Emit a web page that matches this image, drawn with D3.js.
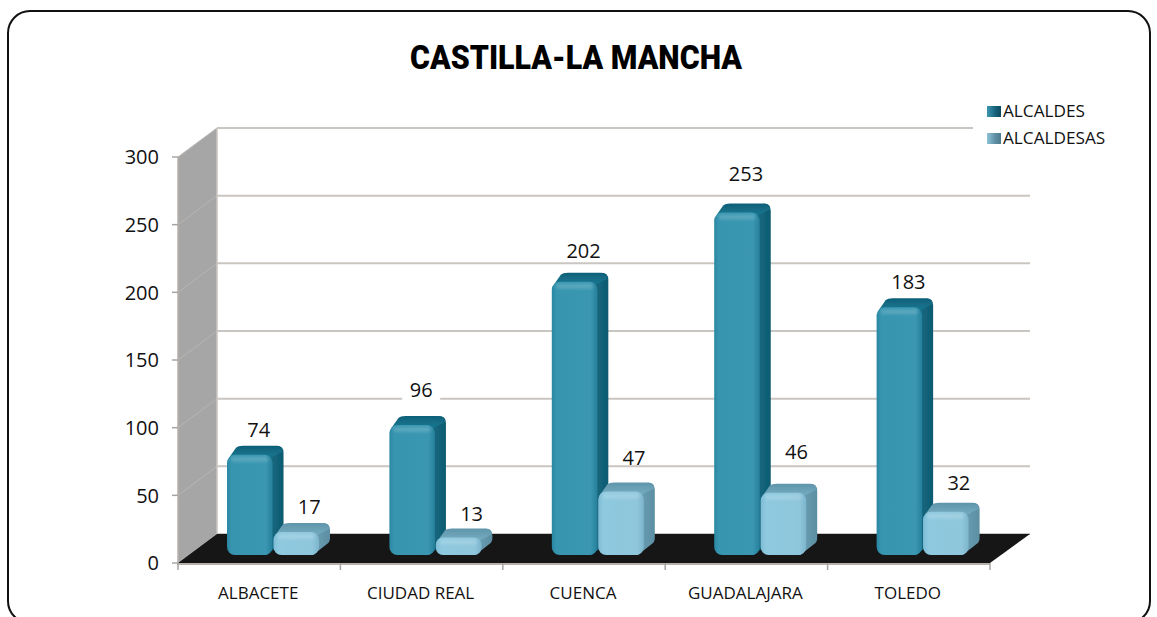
<!DOCTYPE html>
<html><head><meta charset="utf-8">
<script src="https://cdn.jsdelivr.net/npm/d3@7"></script>
<style>html,body{margin:0;padding:0;background:#fff;overflow:hidden}svg{display:block}</style>
</head><body><svg id="c" width="1157" height="617"></svg>
<script>
const titleText = "CASTILLA-LA MANCHA";
const categories = ["ALBACETE","CIUDAD REAL","CUENCA","GUADALAJARA","TOLEDO"];
const seriesNames = ["ALCALDES","ALCALDESAS"];
const alcaldes = [74,96,202,253,183];
const alcaldesas = [17,13,47,46,32];
const yTicks = [0,50,100,150,200,250,300];
// hand-placed label nudges seen in the picture (gap above the bar top)
const labelGapAlcaldes = [16,26,22,30,17];
const labelGapAlcaldesas = [16,15,25,32,20];

const W=1157,H=617;
const m={left:178,right:990,front0:563,front300:157,dx:39,dy:-29};
const svg=d3.select("#c");
const defs=svg.append("defs");
function grad(id,stops,x2=1,y2=0){
  const g=defs.append("linearGradient").attr("id",id).attr("x1",0).attr("y1",0).attr("x2",x2).attr("y2",y2);
  stops.forEach(s=>g.append("stop").attr("offset",s[0]).attr("stop-color",s[1]));
}
grad("f0",[[0,"#2a87a3"],[.1,"#3795af"],[.85,"#3a97b1"],[1,"#27809b"]]);
grad("f1",[[0,"#7fbdd6"],[.12,"#8ec9df"],[.85,"#8fc6db"],[1,"#7db5cd"]]);
grad("s0",[[0,"#17708a"],[1,"#0f5a70"]]);
grad("s1",[[0,"#6ea3b8"],[1,"#5c8ea2"]]);
grad("t0",[[0,"#0f6079"],[1,"#1a7a94"]],0,1);
grad("t1",[[0,"#5f95aa"],[1,"#78aec3"]],0,1);
grad("l0",[[0,"#3d97b2"],[.6,"#17617a"],[1,"#0c4a5e"]]);
grad("l1",[[0,"#8dc3d8"],[.6,"#5e8ea3"],[1,"#4d7a8d"]]);
defs.append("filter").attr("id","soft").append("feGaussianBlur").attr("stdDeviation",.5);
defs.append("filter").attr("id","glow").attr("x","-20%").attr("y","-50%").attr("width","140%").attr("height","200%")
  .append("feGaussianBlur").attr("stdDeviation",1.6);

const y=d3.scaleLinear().domain([0,300]).range([m.front0,m.front300]);
const x=d3.scaleBand().domain(categories).range([m.left,m.right]);
const inner=d3.scaleBand().domain(seriesNames).range([49,141]).paddingInner(.02);
const values=[alcaldes,alcaldesas];

svg.append("rect").attr("x",8).attr("y",11).attr("width",1142).attr("height",612).attr("rx",22)
  .attr("fill","#fff").attr("stroke","#111").attr("stroke-width",2);

svg.append("text").attr("x",576).attr("y",69).attr("text-anchor","middle")
  .attr("textLength",332).attr("lengthAdjust","spacingAndGlyphs")
  .attr("font-family","Roboto").attr("font-weight",900).attr("font-size",33).attr("fill","#000").text(titleText);

const plot=svg.append("g").attr("filter","url(#soft)");
plot.append("polygon").attr("fill","#a6a6a6").attr("points",[
  [m.left,y(300)],[m.left+m.dx,y(300)+m.dy],[m.left+m.dx,y(0)+m.dy],[m.left,y(0)]].join(" "));
yTicks.forEach(t=>{
  const gy=y(t)+m.dy;
  plot.append("line").attr("x1",m.left+m.dx).attr("x2",t===300?973:m.right+m.dx+1).attr("y1",gy).attr("y2",gy)
    .attr("stroke","#c9c5c1").attr("stroke-width",2);
  plot.append("line").attr("x1",m.left).attr("x2",m.left+m.dx).attr("y1",y(t)).attr("y2",gy)
    .attr("stroke","#b9b6b2").attr("stroke-width",1);
});
plot.append("line").attr("x1",m.left+m.dx).attr("x2",m.left+m.dx).attr("y1",y(300)+m.dy).attr("y2",y(0)+m.dy)
  .attr("stroke","#c9c5c1").attr("stroke-width",1.5);
plot.append("polygon").attr("fill","#141414").attr("points",[
  [m.left,y(0)],[m.right,y(0)],[m.right+m.dx+1,y(0)+m.dy],[m.left+m.dx,y(0)+m.dy]].join(" "));
plot.append("line").attr("x1",m.left-1).attr("x2",m.right).attr("y1",y(0)+1).attr("y2",y(0)+1).attr("stroke","#b5b1ad").attr("stroke-width",2);
plot.append("line").attr("x1",m.left).attr("x2",m.left).attr("y1",y(300)).attr("y2",y(0)).attr("stroke","#b5b1ad").attr("stroke-width",1.5);
yTicks.forEach(t=>plot.append("line").attr("x1",m.left-6).attr("x2",m.left).attr("y1",y(t)).attr("y2",y(t)).attr("stroke","#a8a4a0").attr("stroke-width",1.5));
d3.range(categories.length+1).forEach(i=>{
  const tx=m.left+i*x.bandwidth();
  plot.append("line").attr("x1",tx).attr("x2",tx).attr("y1",y(0)).attr("y2",y(0)+7).attr("stroke","#a8a4a0").attr("stroke-width",1.5);
});

const barBase=y(0)-8, barDx=11, barDy=-9;
const hOf=v=>y(0)-y(v);
const labelGaps=[labelGapAlcaldes,labelGapAlcaldesas];
const labelData=[];
seriesNames.forEach((s,si)=>categories.forEach((c,ci)=>{
  const bx=x(c)+inner(s), v=values[si][ci];
  labelData.push({lx:bx+inner.bandwidth()/2+(si?13:9),ly:barBase-hOf(v)+barDy-labelGaps[si][ci],v});
}));
plot.selectAll(".plate").data(labelData).join("rect").attr("class","plate")
  .attr("x",d=>d.lx-19).attr("width",38).attr("y",d=>d.ly-12).attr("height",24).attr("fill","#fff")
  .attr("display",d=>d.v===96?null:"none");

function barGroup(si,ci){
  const s=seriesNames[si],c=categories[ci],v=values[si][ci];
  const bx=x(c)+inner(s),w=inner.bandwidth(),h=hOf(v),top=barBase-h;
  const g=plot.append("g");
  const r=Math.min(8,h/2.5);
  g.append("path").attr("fill",`url(#s${si})`).attr("d",
    `M${bx+w-6},${barBase} L${bx+w+barDx-3},${barBase+barDy-2} Q${bx+w+barDx},${barBase+barDy-4} ${bx+w+barDx},${barBase+barDy-8}
     L${bx+w+barDx},${top+barDy+7} Q${bx+w+barDx},${top+barDy} ${bx+w+barDx-7},${top+barDy} L${bx+w-r},${top+r} L${bx+w-r},${barBase} Z`);
  g.append("path").attr("fill",`url(#t${si})`).attr("d",
    `M${bx+2},${top+3} L${bx+barDx-2},${top+barDy+2} Q${bx+barDx},${top+barDy} ${bx+barDx+5},${top+barDy}
     L${bx+w+barDx-8},${top+barDy} Q${bx+w+barDx},${top+barDy} ${bx+w+barDx-1},${top+barDy+6} L${bx+w-2},${top+3} L${bx+w-5},${top+4} Z`);
  g.append("rect").attr("x",bx).attr("y",top).attr("width",w).attr("height",h).attr("rx",r).attr("fill",`url(#f${si})`);
  g.append("rect").attr("x",bx+4).attr("y",top+2).attr("width",w-8).attr("height",Math.min(5,h/3)).attr("rx",2.5)
    .attr("fill","#fff").attr("opacity",.16).attr("filter","url(#glow)");
}
categories.forEach((c,ci)=>{barGroup(0,ci);barGroup(1,ci);});

const num="'Open Sans'";
svg.selectAll(".dl").data(labelData).join("text").attr("class","dl")
  .attr("x",d=>d.lx).attr("y",d=>d.ly).attr("dy","0.36em").attr("text-anchor","middle")
  .attr("font-family",num).attr("font-size",20).attr("fill","#111").text(d=>d.v);
svg.selectAll(".yl").data(yTicks).join("text").attr("class","yl")
  .attr("x",159).attr("y",d=>y(d)).attr("dy","0.36em").attr("text-anchor","end")
  .attr("font-family",num).attr("font-size",20).attr("fill","#111").text(d=>d);
svg.selectAll(".xl").data(categories).join("text").attr("class","xl")
  .attr("x",d=>x(d)+x.bandwidth()/2-1).attr("y",599).attr("text-anchor","middle")
  .attr("font-family","'Open Sans'").attr("font-size",17).attr("fill","#111").text(d=>d);
seriesNames.forEach((s,i)=>{
  const ly=111+i*27;
  svg.append("rect").attr("x",987).attr("y",ly-5).attr("width",14).attr("height",11).attr("fill",`url(#l${i})`);
  svg.append("text").attr("x",1003).attr("y",ly).attr("dy","0.36em")
    .attr("font-family","'Open Sans'").attr("font-size",17.2).attr("fill","#111").text(s);
});
</script></body></html>
